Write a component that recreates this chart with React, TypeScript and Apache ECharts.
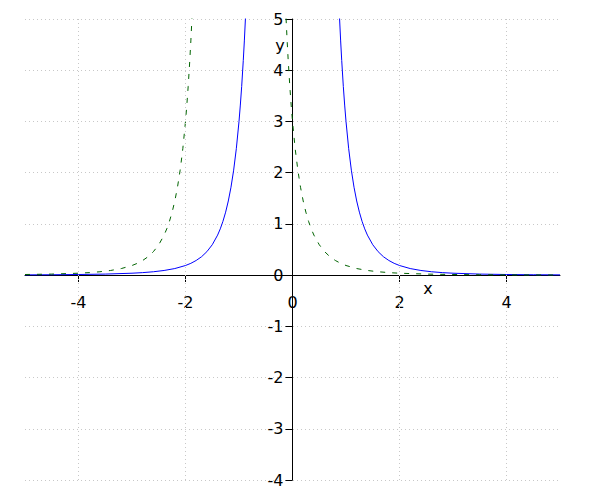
import React, { useEffect, useRef } from "react";
import * as echarts from "echarts";

// Blue solid curve, left and right branches (x, y)
const blueLeft: [number, number][] = [
  [-5.0, 0.0048], [-4.5, 0.0073], [-4.0, 0.0117], [-3.5, 0.02], [-3.0, 0.037],
  [-2.8, 0.0488], [-2.6, 0.0656], [-2.4, 0.0904], [-2.2, 0.128], [-2.0, 0.1875],
  [-1.9, 0.23], [-1.8, 0.286], [-1.7, 0.359], [-1.6, 0.458], [-1.5, 0.593],
  [-1.4, 0.781], [-1.35, 0.903], [-1.3, 1.05], [-1.25, 1.229], [-1.2, 1.447],
  [-1.15, 1.715], [-1.1, 2.049], [-1.05, 2.468], [-1.0, 3.0], [-0.975, 3.32],
  [-0.95, 3.683], [-0.92, 4.188], [-0.9, 4.572], [-0.88, 5.0025], [-0.86, 5.484],
];
const blueRight: [number, number][] = [
  [0.86, 5.484], [0.88, 5.0025], [0.9, 4.572], [0.92, 4.188], [0.95, 3.683],
  [0.975, 3.32], [1.0, 3.0], [1.05, 2.468], [1.1, 2.049], [1.15, 1.715],
  [1.2, 1.447], [1.25, 1.229], [1.3, 1.05], [1.35, 0.903], [1.4, 0.781],
  [1.5, 0.593], [1.6, 0.458], [1.7, 0.359], [1.8, 0.286], [1.9, 0.23],
  [2.0, 0.1875], [2.2, 0.128], [2.4, 0.0904], [2.6, 0.0656], [2.8, 0.0488],
  [3.0, 0.037], [3.5, 0.02], [4.0, 0.0117], [4.5, 0.0073], [5.0, 0.0048],
];
// Green dashed curve, left and right branches (x, y)
const greenLeft: [number, number][] = [
  [-5.0, 0.0117], [-4.5, 0.02], [-4.0, 0.037], [-3.8, 0.0488], [-3.6, 0.0656],
  [-3.4, 0.0904], [-3.2, 0.128], [-3.0, 0.1875], [-2.9, 0.23], [-2.8, 0.286],
  [-2.7, 0.359], [-2.6, 0.458], [-2.5, 0.593], [-2.4, 0.781], [-2.35, 0.903],
  [-2.3, 1.05], [-2.25, 1.229], [-2.2, 1.447], [-2.15, 1.715], [-2.1, 2.049],
  [-2.05, 2.468], [-2.0, 3.0], [-1.975, 3.32], [-1.95, 3.683], [-1.92, 4.188],
  [-1.9, 4.572], [-1.88, 5.0025], [-1.86, 5.484],
];
const greenRight: [number, number][] = [
  [-0.14, 5.484], [-0.12, 5.0025], [-0.1, 4.572], [-0.08, 4.188], [-0.05, 3.683],
  [-0.025, 3.32], [0.0, 3.0], [0.05, 2.468], [0.1, 2.049], [0.15, 1.715],
  [0.2, 1.447], [0.25, 1.229], [0.3, 1.05], [0.35, 0.903], [0.4, 0.781],
  [0.5, 0.593], [0.6, 0.458], [0.7, 0.359], [0.8, 0.286], [0.9, 0.23],
  [1.0, 0.1875], [1.2, 0.128], [1.4, 0.0904], [1.6, 0.0656], [1.8, 0.0488],
  [2.0, 0.037], [2.5, 0.02], [3.0, 0.0117], [3.5, 0.0073], [4.0, 0.0048],
  [5.0, 0.0023],
];

const xTicks = [-4, -2, 0, 2, 4];
const xGridLines = [-4, -2, 2, 4];

const FONT = "DejaVu Sans";

export default function App() {
  const ref = useRef<HTMLDivElement>(null);
  useEffect(() => {
    if (!ref.current) return;
    const chart = echarts.init(ref.current, undefined, { renderer: "svg" });
    const curve = (data: [number, number][], color: string, dashed: boolean, z: number) => ({
      type: "line",
      data,
      showSymbol: false,
      smooth: false,
      clip: true,
      z,
      lineStyle: { color, width: 1, type: dashed ? [5, 7] : "solid" },
      silent: true,
    });
    chart.setOption({
      animation: false,
      backgroundColor: "#ffffff",
      grid: { left: 25, right: 40, top: 19, bottom: 20 },
      xAxis: {
        type: "value",
        min: -5,
        max: 5,
        interval: 1,
        position: "bottom",
        offset: -205,
        axisLine: { show: true, onZero: false, lineStyle: { color: "#000", width: 1 } },
        axisTick: { show: true, length: 7, customValues: xTicks, lineStyle: { color: "#000" } },
        axisLabel: {
          show: true,
          customValues: xTicks,
          margin: 19,
          color: "#000",
          fontSize: 16,
          fontFamily: FONT,
        },
        splitLine: { show: false },
      },
      yAxis: {
        type: "value",
        min: -4,
        max: 5,
        interval: 1,
        position: "left",
        offset: -267.5,
        axisLine: { show: true, onZero: false, lineStyle: { color: "#000", width: 1 } },
        axisTick: { show: true, length: 7, lineStyle: { color: "#000" } },
        axisLabel: {
          show: true,
          margin: 9,
          color: "#000",
          fontSize: 16,
          fontFamily: FONT,
          showMinLabel: true,
          showMaxLabel: true,
        },
        splitLine: { show: true, lineStyle: { color: "#c8c8c8", width: 1, type: [1, 3] } },
      },
      graphic: [
        {
          type: "text",
          x: 428,
          y: 288,
          style: { text: "x", fill: "#000", font: `16px '${FONT}'`, align: "center", verticalAlign: "middle" },
        },
        {
          type: "text",
          x: 280,
          y: 45,
          style: { text: "y", fill: "#000", font: `16px '${FONT}'`, align: "center", verticalAlign: "middle" },
        },
      ],
      series: [
        {
          type: "line",
          data: [],
          z: 1,
          silent: true,
          markLine: {
            silent: true,
            symbol: "none",
            label: { show: false },
            lineStyle: { color: "#c8c8c8", width: 1, type: [1, 3] },
            data: xGridLines.map((v) => ({ xAxis: v })),
          },
        },
        curve(blueLeft, "#0000ff", false, 3),
        curve(blueRight, "#0000ff", false, 3),
        curve(greenLeft, "#006400", true, 4),
        curve(greenRight, "#006400", true, 4),
      ],
    });
    return () => chart.dispose();
  }, []);
  return (
    <div
      ref={ref}
      style={{ position: "absolute", left: 0, top: 0, width: 600, height: 500 }}
    />
  );
}
